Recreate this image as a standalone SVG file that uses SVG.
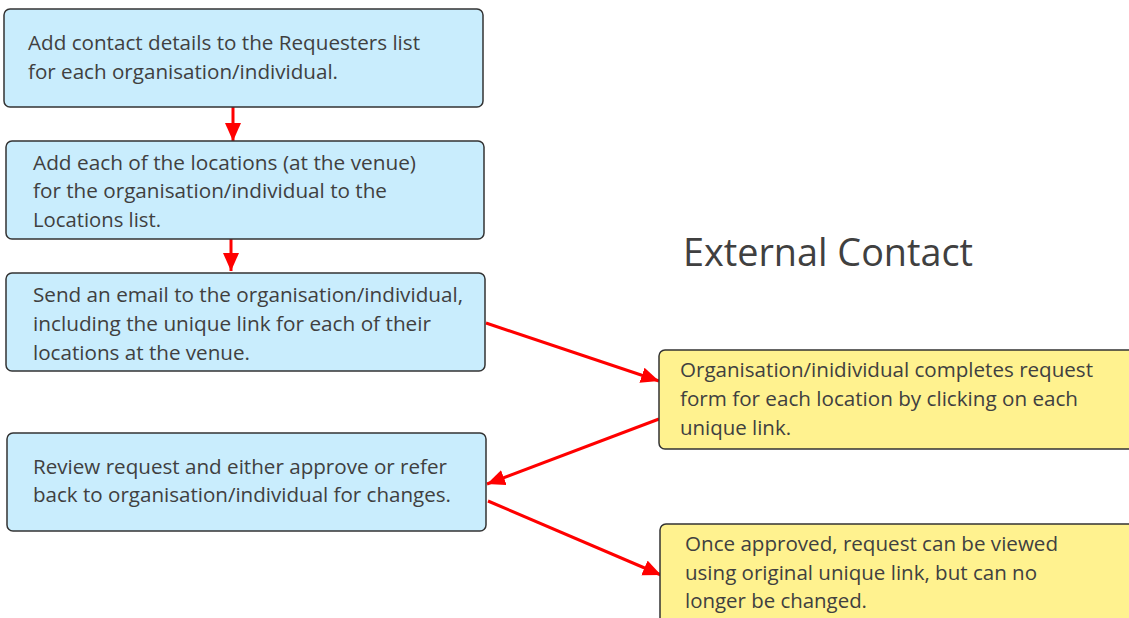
<svg xmlns="http://www.w3.org/2000/svg" width="1129" height="618" viewBox="0 0 1129 618">
<style>
.blue{fill:#c9edfd;stroke:#333;stroke-width:1.5}
.yel{fill:#fff28f;stroke:#333;stroke-width:1.5}
.t{font-family:"Open Sans","Noto Sans",sans-serif;font-size:19.5px;fill:#404040}
.title{font-family:"Open Sans","Noto Sans",sans-serif;font-size:38px;fill:#404040}
.c{stroke:#ff0000;stroke-width:3;fill:none}
</style>
<defs>
<marker id="ah" markerUnits="userSpaceOnUse" markerWidth="20" markerHeight="18" refX="18" refY="8" orient="auto">
<path d="M0,0 L18,8 L0,16 Z" fill="#ff0000"/>
</marker>
</defs>
<g id="connectors">
<line class="c" x1="233" y1="107" x2="233" y2="141" marker-end="url(#ah)"/>
<line class="c" x1="231" y1="239" x2="231" y2="271" marker-end="url(#ah)"/>
<line class="c" x1="486" y1="323" x2="659" y2="381" marker-end="url(#ah)"/>
<line class="c" x1="659" y1="419" x2="487" y2="484" marker-end="url(#ah)"/>
<line class="c" x1="488" y1="501" x2="661" y2="575" marker-end="url(#ah)"/>
</g>
<g id="n1">
<rect class="blue" x="4" y="9" width="479" height="98" rx="6"/>
<text class="t" x="28" y="50" textLength="392" lengthAdjust="spacingAndGlyphs">Add contact details to the Requesters list</text>
<text class="t" x="28" y="79" textLength="310" lengthAdjust="spacingAndGlyphs">for each organisation/individual.</text>
</g>
<g id="n2">
<rect class="blue" x="6" y="141" width="478" height="98" rx="6"/>
<text class="t" x="33" y="170" textLength="383" lengthAdjust="spacingAndGlyphs">Add each of the locations (at the venue)</text>
<text class="t" x="33" y="198" textLength="354" lengthAdjust="spacingAndGlyphs">for the organisation/individual to the</text>
<text class="t" x="33" y="227" textLength="128" lengthAdjust="spacingAndGlyphs">Locations list.</text>
</g>
<g id="n3">
<rect class="blue" x="6" y="273" width="479" height="98" rx="6"/>
<text class="t" x="33" y="302" textLength="430" lengthAdjust="spacingAndGlyphs">Send an email to the organisation/individual,</text>
<text class="t" x="33" y="331" textLength="398" lengthAdjust="spacingAndGlyphs">including the unique link for each of their</text>
<text class="t" x="33" y="360" textLength="217" lengthAdjust="spacingAndGlyphs">locations at the venue.</text>
</g>
<g id="n4">
<rect class="blue" x="7" y="433" width="479" height="98" rx="6"/>
<text class="t" x="33" y="474" textLength="414" lengthAdjust="spacingAndGlyphs">Review request and either approve or refer</text>
<text class="t" x="33" y="502" textLength="418" lengthAdjust="spacingAndGlyphs">back to organisation/individual for changes.</text>
</g>
<g id="title">
<text class="title" x="683" y="266" textLength="290" lengthAdjust="spacingAndGlyphs">External Contact</text>
</g>
<g id="n5">
<rect class="yel" x="659" y="350" width="490" height="99" rx="6"/>
<text class="t" x="680" y="377" textLength="413" lengthAdjust="spacingAndGlyphs">Organisation/inidividual completes request</text>
<text class="t" x="680" y="406" textLength="398" lengthAdjust="spacingAndGlyphs">form for each location by clicking on each</text>
<text class="t" x="680" y="435" textLength="111" lengthAdjust="spacingAndGlyphs">unique link.</text>
</g>
<g id="n6">
<rect class="yel" x="660" y="524" width="490" height="120" rx="6"/>
<text class="t" x="685" y="551" textLength="373" lengthAdjust="spacingAndGlyphs">Once approved, request can be viewed</text>
<text class="t" x="685" y="580" textLength="352" lengthAdjust="spacingAndGlyphs">using original unique link, but can no</text>
<text class="t" x="685" y="608" textLength="182" lengthAdjust="spacingAndGlyphs">longer be changed.</text>
</g>
</svg>
